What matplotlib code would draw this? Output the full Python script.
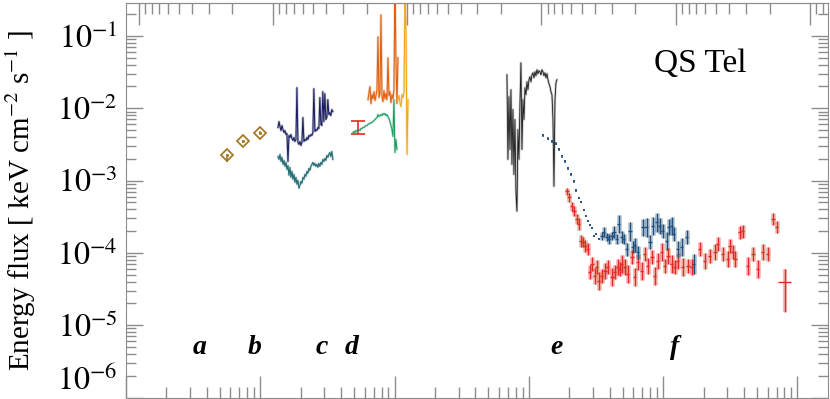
import numpy as np
import matplotlib.pyplot as plt
import matplotlib.transforms as mtransforms
from matplotlib.ticker import LogLocator, NullFormatter

plt.rcParams['font.family'] = ['Liberation Serif', 'DejaVu Serif']
plt.rcParams['mathtext.fontset'] = 'stix'

# All values: log10 energy [keV], log10 flux [keV cm^-2 s^-1]

# b: near-IR photometry
b_loge = [-3.248, -3.129, -3.000]
b_logf = [-2.653, -2.460, -2.336]
b_dlo = [0.09, 0.02, 0.02]

# c: optical spectra, two epochs (energy range in keV)
c_range = (1.355e-3, 3.47e-3)
c_hi_logf = [-2.267, -2.185, -2.253, -2.309, -2.240, -2.295, -2.336, -2.309, -2.364, -2.350,
             -2.736, -2.377, -2.405, -2.364, -2.419, -2.446, -2.405, -2.460, -2.433, -1.716,
             -2.474, -2.501, -2.460, -2.515, -2.474, -2.129, -2.460, -2.433, -2.446, -2.405,
             -2.433, -2.377, -2.391, -2.364, -2.377, -2.336, -1.730, -2.322, -2.295, -2.309,
             -2.267, -2.281, -1.854, -2.226, -2.240, -1.771, -2.185, -1.799, -2.157, -2.129,
             -1.882, -2.088, -2.061, -2.102, -2.019, -2.047]
c_lo_logf = [-2.667, -2.708, -2.639, -2.736, -2.680, -2.777, -2.722, -2.804, -2.749, -2.846,
             -2.791, -2.928, -2.818, -2.956, -2.873, -2.983, -2.915, -3.025, -2.956, -3.052,
             -2.997, -3.107, -3.066, -3.011, -3.039, -2.956, -2.983, -2.915, -2.942, -2.873,
             -2.901, -2.832, -2.860, -2.804, -2.777, -2.749, -2.791, -2.763, -2.804, -2.777,
             -2.818, -2.763, -2.804, -2.749, -2.777, -2.708, -2.736, -2.694, -2.722, -2.653,
             -2.680, -2.639, -2.612, -2.667, -2.598, -2.708]

# d: UV
d_bar_loge = -2.2725
d_bar_logf = (-2.350, -2.171)
d_green_range = (4.90e-3, 1.042e-2)
d_green_logf = [-2.336, -2.322, -2.336, -2.309, -2.322, -2.309, -2.295, -2.309, -2.281, -2.281,
                -2.267, -2.267, -2.253, -2.240, -2.240, -2.226, -2.212, -2.212, -2.198, -2.198,
                -2.185, -2.171, -2.157, -2.143, -2.129, -2.088, -2.116, -2.102, -2.088, -2.102,
                -2.074, -2.088, -2.074, -2.102, -2.088, -2.116, -2.143, -2.185, -2.240, -2.295,
                -2.391, -1.882, -2.612, -2.433, -2.570]
d_orange_range = (6.34e-3, 1.06e-2)
d_orange_logf = [-1.882, -1.785, -1.702, -1.937, -1.813, -1.868, -1.771, -1.895, -1.826, -1.744,
                 -1.014, -1.854, -1.785, -0.711, -1.840, -1.909, -1.758, -1.868, -1.799, -1.882,
                 -1.303, -1.826, -1.771, -1.923, -1.813, -1.868, -1.744, -0.366, -1.331, -1.937,
                 -1.303]
d_yellow_range = (1.06e-2, 1.26e-2)
d_yellow_logf = [-1.882, -1.826, -1.923, -1.978, -1.813, -1.854, -1.771, -0.366, -0.959, -2.639,
                 -1.882]

# e: EUV / supersoft spectrum
e_range = (0.0687, 0.162)
e_logf = [-1.537, -2.708, -1.840, -2.570, -1.744, -2.777, -2.019, -2.915, -2.157, -3.163,
          -3.424, -2.295, -2.708, -1.950, -1.372, -2.570, -1.882, -2.157, -1.716, -1.813,
          -1.634, -1.744, -1.606, -1.565, -1.634, -1.537, -1.510, -1.579, -1.496, -1.551,
          -1.468, -1.523, -1.482, -1.496, -1.537, -1.468, -1.496, -1.551, -1.510, -1.579,
          -1.523, -1.606, -1.661, -1.702, -1.771, -1.813, -2.157, -3.080, -1.882, -1.647,
          -1.606]

# soft X-ray (blue): dense points then binned points with errors
bd_loge = [-0.895, -0.858, -0.828, -0.798, -0.776, -0.754, -0.731, -0.709, -0.687, -0.664,
           -0.649, -0.627, -0.612, -0.590, -0.575, -0.560, -0.545, -0.530, -0.515, -0.500, -0.478]
bd_logf = [-2.377, -2.419, -2.460, -2.488, -2.570, -2.667, -2.736, -2.832, -2.915, -3.011,
           -3.135, -3.245, -3.300, -3.410, -3.493, -3.562, -3.617, -3.658, -3.769, -3.741, -3.810]
bx_loge = [-0.456, -0.441, -0.418, -0.404, -0.381, -0.366, -0.344, -0.329, -0.307, -0.292,
           -0.270, -0.247, -0.225, -0.210, -0.188, -0.150, -0.121, -0.098, -0.076, -0.046,
           -0.024, -0.002, 0.028, 0.043, 0.065, 0.080, 0.110, 0.140, 0.177, 0.229]
bx_logf = [-3.769, -3.713, -3.782, -3.810, -3.769, -3.713, -3.810, -3.603, -3.782, -3.810,
           -3.948, -3.700, -3.920, -3.893, -3.989, -3.645, -3.645, -3.851, -3.631, -3.576,
           -3.631, -3.700, -3.837, -3.645, -3.631, -3.741, -3.948, -3.920, -3.782, -4.154]
bx_dlogf = [0.06, 0.07, 0.06, 0.07, 0.06, 0.08, 0.07, 0.12, 0.08, 0.07,
            0.09, 0.13, 0.08, 0.10, 0.09, 0.12, 0.13, 0.10, 0.12, 0.13,
            0.11, 0.10, 0.12, 0.11, 0.12, 0.10, 0.11, 0.12, 0.10, 0.14]

# X-ray (red) binned points with errors
r_loge = [-0.716, -0.701, -0.679, -0.664, -0.642, -0.627, -0.612, -0.597, -0.582, -0.560,
          -0.545, -0.530, -0.508, -0.493, -0.478, -0.456, -0.433, -0.411, -0.381, -0.359,
          -0.337, -0.322, -0.307, -0.285, -0.262, -0.232, -0.210, -0.188, -0.158, -0.136,
          -0.113, -0.083, -0.061, -0.039, -0.009, 0.013, 0.036, 0.065, 0.088, 0.110,
          0.147, 0.185, 0.214, 0.274, 0.311, 0.348, 0.386, 0.408, 0.445, 0.482,
          0.497, 0.520, 0.535, 0.572, 0.594, 0.631, 0.669, 0.706, 0.743, 0.780,
          0.818, 0.847]
r_logf = [-3.149, -3.231, -3.355, -3.424, -3.534, -3.603, -3.837, -3.851, -3.906, -3.948,
          -4.264, -4.154, -4.320, -4.196, -4.388, -4.320, -4.251, -4.196, -4.333, -4.264,
          -4.196, -4.223, -4.154, -4.196, -4.292, -4.058, -4.333, -4.127, -4.251, -4.017,
          -4.182, -4.058, -4.320, -4.113, -3.989, -4.182, -4.044, -4.154, -4.196, -4.113,
          -4.196, -4.182, -4.196, -3.948, -4.113, -4.044, -3.989, -3.879, -4.017, -4.085,
          -3.906, -3.989, -4.085, -3.713, -3.700, -4.182, -4.017, -4.223, -3.989, -4.017,
          -3.534, -3.645]
r_dlogf = [0.05, 0.06, 0.06, 0.07, 0.07, 0.08, 0.08, 0.07, 0.08, 0.08,
           0.10, 0.10, 0.11, 0.10, 0.12, 0.10, 0.11, 0.10, 0.12, 0.10,
           0.11, 0.10, 0.12, 0.11, 0.12, 0.10, 0.12, 0.11, 0.12, 0.10,
           0.11, 0.10, 0.12, 0.11, 0.12, 0.10, 0.11, 0.12, 0.10, 0.11,
           0.12, 0.10, 0.11, 0.10, 0.11, 0.10, 0.11, 0.10, 0.10, 0.11,
           0.10, 0.10, 0.11, 0.09, 0.09, 0.12, 0.10, 0.12, 0.11, 0.10,
           0.08, 0.08]
# last, wide bin
r_last_loge, r_last_logf = 0.907, -4.402
r_last_dloge, r_last_dlo, r_last_dhi = 0.048, 0.41, 0.18

band_labels = ['a', 'b', 'c', 'd', 'e', 'f']
band_label_e = [3.56e-4, 9.1e-4, 2.88e-3, 4.82e-3, 0.162, 1.22]

# colours
gray = '#8c8c8c'
c_gold = '#a57a2a'
c_navy = '#1b1f5e'
c_teal = '#1d6a70'
c_red = '#dd2c22'
c_green = '#1a9e62'
c_orange = '#e0600e'
c_yellow = '#f0a61a'
c_black = '#1a1a1a'
c_blue = '#1f4f7a'

fig = plt.figure(figsize=(8.3, 3.99), dpi=100)
ax = fig.add_axes([126 / 830, 1.5 / 399, 702 / 830, 394.5 / 399])
ax.set_xscale('log')
ax.set_yscale('log')
ax.set_xlim(1e-4, 16.9)
ax.set_ylim(1e-6, 0.285)


def pw(v):
    return 10 ** np.asarray(v, dtype=float)


def spectrum(rng, logf, color, halo=0.25, lw=0.75):
    e = np.geomspace(rng[0], rng[1], len(logf))
    f = pw(logf)
    ax.plot(e, f, color=color, lw=1.7, alpha=halo)
    ax.plot(e, f, color=color, lw=lw)


# b
bf = pw(b_logf)
ax.errorbar(pw(b_loge), bf, yerr=[bf - pw(np.array(b_logf) - np.array(b_dlo)), bf * 0.04],
            fmt='none', ecolor=c_gold, elinewidth=1.2)
ax.plot(pw(b_loge), bf, 'D', mfc='none', mec=c_gold, mew=1.3, ms=6)
ax.plot(pw(b_loge), bf, '.', color=c_gold, ms=2.5)

# c
spectrum(c_range, c_hi_logf, c_navy, 0.3)
spectrum(c_range, c_lo_logf, c_teal, 0.25)

# d
lo, hi = pw(d_bar_logf)
ax.errorbar([10 ** d_bar_loge], [lo], yerr=[[0], [hi - lo]], fmt='none', ecolor=c_red,
            elinewidth=1.2, capsize=5, capthick=1.2)
spectrum(d_green_range, d_green_logf, c_green, 0.25)
spectrum(d_orange_range, d_orange_logf, c_orange, 0.3)
spectrum(d_yellow_range, d_yellow_logf, c_yellow, 0.3)

# e
spectrum(e_range, e_logf, c_black, 0.25, lw=0.6)

# blue
bde, bdf = pw(bd_loge), pw(bd_logf)
ax.errorbar(bde, bdf, xerr=[bde - bde / 1.02, bde * 1.02 - bde],
            yerr=[bdf - bdf / 1.04, bdf * 1.04 - bdf], fmt='none',
            ecolor=c_blue, elinewidth=1.1)
bxe, bxf = pw(bx_loge), pw(bx_logf)
bx_yerr = [bxf - pw(np.array(bx_logf) - np.array(bx_dlogf)),
           pw(np.array(bx_logf) + np.array(bx_dlogf)) - bxf]
bx_xerr = [bxe - bxe / 1.027, bxe * 1.027 - bxe]

# red
re_, rf = pw(r_loge), pw(r_logf)
r_yerr = [rf - pw(np.array(r_logf) - np.array(r_dlogf)),
          pw(np.array(r_logf) + np.array(r_dlogf)) - rf]
r_xerr = [re_ - re_ / 1.027, re_ * 1.027 - re_]

ax.errorbar(re_, rf, yerr=r_yerr, fmt='none', ecolor=c_red, elinewidth=3.5, alpha=0.3)
ax.errorbar(bxe, bxf, yerr=bx_yerr, fmt='none', ecolor=c_blue, elinewidth=3.5, alpha=0.3)
ax.errorbar(re_, rf, xerr=r_xerr, yerr=r_yerr, fmt='none', ecolor=c_red, elinewidth=1.0)
ax.errorbar(bxe, bxf, xerr=bx_xerr, yerr=bx_yerr, fmt='none', ecolor=c_blue, elinewidth=1.0)

le, lf = 10 ** r_last_loge, 10 ** r_last_logf
last_yerr = [[lf - 10 ** (r_last_logf - r_last_dlo)], [10 ** (r_last_logf + r_last_dhi) - lf]]
ax.errorbar([le], [lf],
            xerr=[[le - 10 ** (r_last_loge - r_last_dloge)], [10 ** (r_last_loge + r_last_dloge) - le]],
            yerr=last_yerr, fmt='none', ecolor=c_red, elinewidth=1.0)
ax.errorbar([le], [lf], yerr=last_yerr, fmt='none', ecolor=c_red, elinewidth=3, alpha=0.3)

# labels
trans = mtransforms.blended_transform_factory(ax.transData, ax.transAxes)
for lab, e in zip(band_labels, band_label_e):
    ax.text(e, 0.111, lab, transform=trans, ha='center', va='baseline',
            fontsize=20, fontweight='bold', fontstyle='italic')
ax.text(0.818, 0.825, 'QS Tel', transform=ax.transAxes, ha='center', va='baseline',
        fontsize=24)

# axes styling
ax.set_yticks([1e-6, 1e-5, 1e-4, 1e-3, 1e-2, 1e-1])
ax.set_yticklabels([r'$10^{-6}$', r'$10^{-5}$', r'$10^{-4}$', r'$10^{-3}$', r'$10^{-2}$', r'$10^{-1}$'])
ax.get_yticklabels()[0].set_va('bottom')
ax.yaxis.set_minor_locator(LogLocator(base=10, subs=np.arange(2, 10), numticks=20))
ax.yaxis.set_minor_formatter(NullFormatter())
ax.xaxis.set_major_locator(LogLocator(base=10, numticks=20))
ax.xaxis.set_minor_locator(LogLocator(base=10, subs=np.arange(2, 10), numticks=20))
ax.xaxis.set_major_formatter(NullFormatter())
ax.xaxis.set_minor_formatter(NullFormatter())

ax.tick_params(which='both', direction='in', color=gray, width=1)
ax.tick_params(axis='x', which='major', length=16, top=False)
ax.tick_params(axis='x', which='minor', length=8, top=False)
ax.tick_params(axis='y', which='major', length=12, right=True, labelsize=23, pad=6)
ax.tick_params(axis='y', which='minor', length=7, right=True)
for sp in ax.spines.values():
    sp.set_color(gray)

ax.set_ylabel(r'Energy flux [ keV cm$^{-2}$ s$^{-1}$ ]', fontsize=21)
ax.yaxis.set_label_coords(-0.126, 0.5)


def kev2ang(e):
    e = np.asarray(e, dtype=float)
    with np.errstate(divide='ignore'):
        return 12.398 / e


secax = ax.secondary_xaxis('top', functions=(kev2ang, kev2ang))
secax.xaxis.set_major_locator(LogLocator(base=10, numticks=20))
secax.xaxis.set_minor_locator(LogLocator(base=10, subs=np.arange(2, 10), numticks=20))
secax.xaxis.set_major_formatter(NullFormatter())
secax.xaxis.set_minor_formatter(NullFormatter())
secax.tick_params(which='both', direction='in', color=gray, width=1)
secax.tick_params(which='major', length=16)
secax.tick_params(which='minor', length=8)
secax.spines['top'].set_color(gray)

fig.savefig('out.png', dpi=100)
